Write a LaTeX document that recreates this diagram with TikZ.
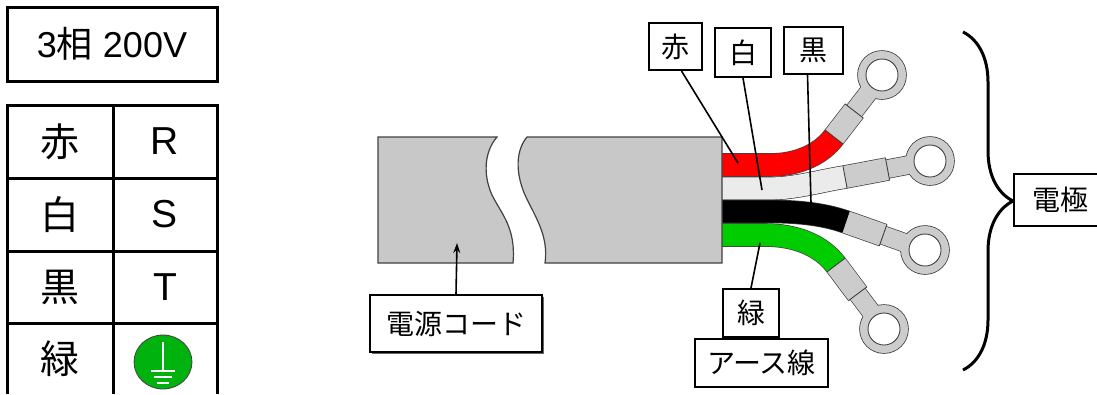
\documentclass[tikz,border=0pt]{standalone}
\usepackage{fontspec}
\setmainfont{Liberation Sans}
\newfontfamily\jp{Noto Sans CJK JP}
\usetikzlibrary{calc,arrows.meta,decorations.pathreplacing}

\newlength{\du}
\setlength{\du}{1pt}

\definecolor{cablegray}{rgb}{0.784314, 0.784314, 0.784314}
\definecolor{luggray}{rgb}{0.800000, 0.800000, 0.800000}
\definecolor{wirered}{rgb}{1.000000, 0.000000, 0.000000}
\definecolor{wirewhite}{rgb}{0.921569, 0.921569, 0.921569}
\definecolor{wireblack}{rgb}{0.000000, 0.000000, 0.000000}
\definecolor{wiregreen}{rgb}{0.000000, 0.800000, 0.000000}
\definecolor{earthgreen}{rgb}{0.000000, 0.700000, 0.050000}
\definecolor{edgecolor}{rgb}{0.250000, 0.250000, 0.250000}

\tikzset{
  lbl/.style={draw=black, line width=2\du, fill=white, inner sep=0pt,
    font=\jp\fontsize{28}{28}\selectfont},
  cell/.style={inner sep=0pt, font=\fontsize{39}{39}\selectfont},
  jpcell/.style={inner sep=0pt, font=\jp\fontsize{39}{39}\selectfont},
  wireedge/.style={draw=edgecolor, line width=23.6\du, line cap=butt},
  wirefill/.style={line width=22.2\du, line cap=butt},
  neckedge/.style={draw=edgecolor, line width=19.4\du, line cap=butt},
  neckfill/.style={line width=18\du, line cap=butt},
  cutline/.style={draw=edgecolor, line width=0.9\du},
  leader/.style={draw=black, line width=1.6\du},
}

\begin{document}
\begin{tikzpicture}
\pgftransformxscale{1.000000}
\pgftransformyscale{-1.000000}
\useasboundingbox (0\du,0\du) rectangle (1097\du,394\du);

% phase table
\node[draw=black, line width=3\du, minimum width=210\du, minimum height=74\du, inner sep=0pt,
  font=\fontsize{36}{36}\selectfont] (title) at (112\du,44\du) {3{\jp 相} 200V};
\draw[line width=3\du] (7\du,394\du) -- (7\du,105\du) -- (217\du,105\du) -- (217\du,394\du);
\draw[line width=3\du] (113\du,105\du) -- (113\du,394\du);
\draw[line width=3\du] (7\du,178\du) -- (217\du,178\du);
\draw[line width=3\du] (7\du,251\du) -- (217\du,251\du);
\draw[line width=3\du] (7\du,323\du) -- (217\du,323\du);
\node[jpcell] (cred) at (60\du,141.5\du) {赤};
\node[cell] (pr) at (165\du,141.5\du) {R};
\node[jpcell] (cwhite) at (60\du,214.5\du) {白};
\node[cell] (ps) at (165\du,214.5\du) {S};
\node[jpcell] (cblack) at (60\du,287\du) {黒};
\node[cell] (pt) at (165\du,287\du) {T};
\node[jpcell] (cgreen) at (60\du,358.5\du) {緑};
% earth mark
\filldraw[fill=earthgreen, draw=edgecolor, line width=0.8\du] (163\du,362\du) ellipse [x radius=29\du, y radius=27\du];
\draw[white, line width=2.5\du] (163\du,342\du) -- (163\du,371\du);
\draw[white, line width=2.5\du] (151\du,371\du) -- (175\du,371\du);
\draw[white, line width=2.5\du] (154\du,377\du) -- (172\du,377\du);
\draw[white, line width=2.5\du] (157\du,383\du) -- (169\du,383\du);

% white wire
\coordinate (ws) at (722\du,188.5\du);
\coordinate (wc) at (845\du,177\du);
\coordinate (wr) at (930\du,161\du);
\coordinate (wm) at ($(wc)!0.5!(wr)$);
\draw[wireedge] (ws) -- (770\du,188.5\du) .. controls (795\du,188.5\du) and (820\du,181\du) .. (wc) -- (wm);
\draw[neckedge] (wm) -- (wr);
\fill[edgecolor] (wr) circle [radius=24.8\du];
\draw[wirefill, luggray] (wc) -- (wm);
\draw[neckfill, luggray] (wm) -- (wr);
\fill[luggray] (wr) circle [radius=24\du];
\draw[wirefill, wirewhite] (ws) -- (770\du,188.5\du) .. controls (795\du,188.5\du) and (820\du,181\du) .. (wc);
\draw[cutline] ($(wc)!11.5\du!90:(wr)$) -- ($(wc)!11.5\du!-90:(wr)$);
\draw[cutline] ($(wm)!11.5\du!90:(wr)$) -- ($(wm)!11.5\du!-90:(wr)$);
\filldraw[fill=white, draw=edgecolor, line width=0.9\du] (wr) circle [radius=16\du];

% red wire
\coordinate (rs) at (722\du,165\du);
\coordinate (rc) at (834\du,137\du);
\coordinate (rr) at (882\du,75\du);
\coordinate (rm) at ($(rc)!0.42!(rr)$);
\draw[wireedge] (rs) -- (770\du,165\du) .. controls (800\du,165\du) and (822\du,153\du) .. (rc) -- (rm);
\draw[neckedge] (rm) -- (rr);
\fill[edgecolor] (rr) circle [radius=24.8\du];
\draw[wirefill, luggray] (rc) -- (rm);
\draw[neckfill, luggray] (rm) -- (rr);
\fill[luggray] (rr) circle [radius=24\du];
\draw[wirefill, wirered] (rs) -- (770\du,165\du) .. controls (800\du,165\du) and (822\du,153\du) .. (rc);
\draw[cutline] ($(rc)!11.5\du!90:(rr)$) -- ($(rc)!11.5\du!-90:(rr)$);
\draw[cutline] ($(rm)!11.5\du!90:(rr)$) -- ($(rm)!11.5\du!-90:(rr)$);
\filldraw[fill=white, draw=edgecolor, line width=0.9\du] (rr) circle [radius=16\du];

% black wire
\coordinate (ks) at (722\du,211.5\du);
\coordinate (kc) at (846\du,222\du);
\coordinate (kr) at (925\du,250\du);
\coordinate (km) at ($(kc)!0.47!(kr)$);
\draw[wireedge] (ks) -- (770\du,211.5\du) .. controls (795\du,211.5\du) and (822\du,213.5\du) .. (kc) -- (km);
\draw[neckedge] (km) -- (kr);
\fill[edgecolor] (kr) circle [radius=24.8\du];
\draw[wirefill, luggray] (kc) -- (km);
\draw[neckfill, luggray] (km) -- (kr);
\fill[luggray] (kr) circle [radius=24\du];
\draw[wirefill, wireblack] (ks) -- (770\du,211.5\du) .. controls (795\du,211.5\du) and (822\du,213.5\du) .. (kc);
\draw[cutline] ($(km)!11.5\du!90:(kr)$) -- ($(km)!11.5\du!-90:(kr)$);
\filldraw[fill=white, draw=edgecolor, line width=0.9\du] (kr) circle [radius=16\du];

% green wire
\coordinate (gs) at (722\du,235\du);
\coordinate (gc) at (836\du,265\du);
\coordinate (gr) at (884\du,329\du);
\coordinate (gm) at ($(gc)!0.45!(gr)$);
\draw[wireedge] (gs) -- (765\du,235\du) .. controls (795\du,235\du) and (821\du,245\du) .. (gc) -- (gm);
\draw[neckedge] (gm) -- (gr);
\fill[edgecolor] (gr) circle [radius=24.8\du];
\draw[wirefill, luggray] (gc) -- (gm);
\draw[neckfill, luggray] (gm) -- (gr);
\fill[luggray] (gr) circle [radius=24\du];
\draw[wirefill, wiregreen] (gs) -- (765\du,235\du) .. controls (795\du,235\du) and (821\du,245\du) .. (gc);
\draw[cutline] ($(gc)!11.5\du!90:(gr)$) -- ($(gc)!11.5\du!-90:(gr)$);
\draw[cutline] ($(gm)!11.5\du!90:(gr)$) -- ($(gm)!11.5\du!-90:(gr)$);
\filldraw[fill=white, draw=edgecolor, line width=0.9\du] (gr) circle [radius=16\du];

% cord, cut in two
\filldraw[fill=cablegray, draw=edgecolor, line width=1.2\du] (378\du,137\du) -- (497\du,137\du)
  .. controls (484\du,152\du) and (483\du,175\du) .. (492\du,195\du)
  .. controls (502\du,215\du) and (516\du,228\du) .. (513\du,263\du) -- (378\du,263\du) -- cycle;
\filldraw[fill=cablegray, draw=edgecolor, line width=1.2\du] (722\du,137\du) -- (527\du,137\du)
  .. controls (516\du,150\du) and (515\du,172\du) .. (525\du,195\du)
  .. controls (534\du,215\du) and (549\du,235\du) .. (545\du,263\du) -- (722\du,263\du) -- cycle;

% labels
\coordinate (cordtip) at (457\du,243\du);
\fill[black!60] (372\du,297\du) rectangle (544\du,354\du);
\node[lbl, minimum width=172\du, minimum height=57\du] (lcord) at (456\du,323.5\du) {電源コード};
\draw[leader, -{Stealth[length=10pt,width=7pt]}] (lcord.north) -- (cordtip);

\coordinate (redtip) at (738\du,163\du);
\coordinate (whitetip) at (762\du,190\du);
\coordinate (blacktip) at (811\du,203\du);
\coordinate (greentip) at (760\du,243\du);
\node[lbl, minimum width=53\du, minimum height=47\du] (lred) at (675.5\du,46.5\du) {赤};
\node[lbl, minimum width=56\du, minimum height=49\du] (lwhite) at (743\du,52.5\du) {白};
\node[lbl, minimum width=59\du, minimum height=47\du] (lblack) at (813.5\du,50.5\du) {黒};
\node[lbl, minimum width=56\du, minimum height=48\du] (lgreen) at (751\du,313\du) {緑};
\node[lbl, minimum width=133\du, minimum height=48\du, anchor=north] (learth) at ([xshift=10.5\du]lgreen.south) {アース線};
\draw[leader] ([xshift=6\du]lred.south) -- (redtip);
\draw[leader] (lwhite.south) -- (whitetip);
\draw[leader] ([xshift=-6\du]lblack.south) -- (blacktip);
\draw[leader] (lgreen.north) -- (greentip);

% electrodes
\draw[line width=3\du, decorate, decoration={brace, amplitude=50\du}] (963\du,32\du) -- (963\du,370\du);
\coordinate (bracetip) at (1013\du,200\du);
\node[lbl, minimum width=92\du, minimum height=52\du, anchor=west] (lelec) at (bracetip) {電極};
\end{tikzpicture}
\end{document}
